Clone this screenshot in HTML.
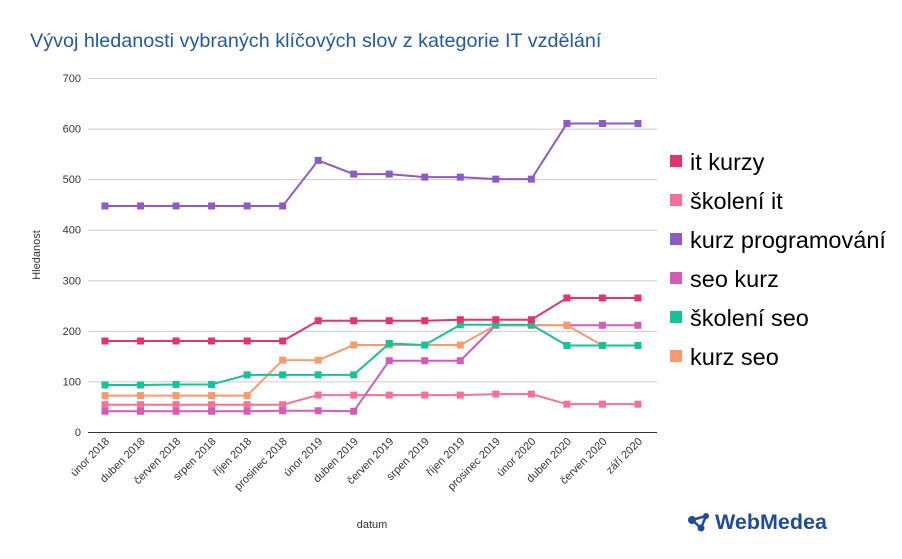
<!DOCTYPE html><html><head><meta charset="utf-8"><style>body{margin:0;background:#fff}svg{display:block;font-family:"Liberation Sans",Roboto,sans-serif}</style></head><body>
<svg width="902" height="559" viewBox="0 0 902 559">
<text x="30" y="47" font-size="19.8" fill="#1f5aa6">Vývoj hledanosti vybraných klíčových slov z kategorie IT vzdělání</text>
<g id="grid" stroke="#ccc" stroke-width="1"></g>
<g id="ylab" font-size="11" fill="#333" text-anchor="end"></g>
<line x1="88" x2="657" y1="432.5" y2="432.5" stroke="#333"/>
<text transform="translate(40,255) rotate(-90)" font-size="11" fill="#333" text-anchor="middle">Hledanost</text>
<text x="372" y="528" font-size="11" fill="#333" text-anchor="middle">datum</text>
<g id="xlab" font-size="11" fill="#333"></g>
<g id="series"></g>
<g font-size="23.5" fill="#000">
<rect x="670" y="155" width="12" height="12" fill="#e5336e"/><text x="690" y="170">it kurzy</text>
<rect x="670" y="194" width="12" height="12" fill="#f7709a"/><text x="690" y="209">školení it</text>
<rect x="670" y="233" width="12" height="12" fill="#8e5ac9"/><text x="690" y="248">kurz programování</text>
<rect x="670" y="272" width="12" height="12" fill="#d45bb7"/><text x="690" y="287">seo kurz</text>
<rect x="670" y="311" width="12" height="12" fill="#15c39a"/><text x="690" y="326">školení seo</text>
<rect x="670" y="350" width="12" height="12" fill="#f89a6c"/><text x="690" y="365">kurz seo</text>
</g>
<g transform="translate(688,512)">
<circle cx="4" cy="8" r="4" fill="#1e4b9c"/><circle cx="18" cy="4" r="3" fill="#1e4b9c"/><circle cx="13" cy="16" r="3.5" fill="#1e4b9c"/>
<path d="M4 8 L18 4 M4 8 L13 16 M18 4 L13 16" stroke="#1e4b9c" stroke-width="2.5"/>
<text x="27" y="17" font-size="21.5" font-weight="bold" fill="#1e4b9c">WebMedea</text>
</g>
</svg>
<script>
const ns="http://www.w3.org/2000/svg";
function el(t,a,p,txt){const e=document.createElementNS(ns,t);for(const k in a)e.setAttribute(k,a[k]);if(txt)e.textContent=txt;document.getElementById(p).appendChild(e);return e;}
const Y=v=>432-v*0.5057, X=i=>105+i*35.53;
for(let v=100;v<=700;v+=100){el('line',{x1:88,x2:657,y1:Y(v)+.5,y2:Y(v)+.5},'grid');}
for(let v=0;v<=700;v+=100)el('text',{x:81,y:Y(v)+4},'ylab',String(v));
const labs=["únor 2018","duben 2018","červen 2018","srpen 2018","říjen 2018","prosinec 2018","únor 2019","duben 2019","červen 2019","srpen 2019","říjen 2019","prosinec 2019","únor 2020","duben 2020","červen 2020","září 2020"];
labs.forEach((l,i)=>el('text',{x:0,y:0,'text-anchor':'end',transform:`translate(${X(i)+5},${442}) rotate(-45)`},'xlab',l));
const S=[
["#f7709a",[54,54,54,54,54,54,73,73,73,73,73,75,75,55,55,55]],
["#d45bb7",[41,41,41,41,41,42,42,41,141,141,141,211,211,211,211,211]],
["#f89a6c",[72,72,72,72,72,142,142,172,172,172,172,211,211,211,171,171]],
["#15c39a",[93,93,94,94,113,113,113,113,175,172,212,212,212,171,171,171]],
["#e5336e",[180,180,180,180,180,180,220,220,220,220,222,222,222,265,265,265]],
["#8e5ac9",[447,447,447,447,447,447,537,510,510,504,504,500,500,610,610,610]]];
S.forEach(([c,d])=>{el('polyline',{points:d.map((v,i)=>X(i)+','+Y(v)).join(' '),fill:'none',stroke:c,'stroke-width':2},'series');
d.forEach((v,i)=>el('rect',{x:X(i)-3.5,y:Y(v)-3.5,width:7,height:7,fill:c},'series'));});
</script>
</body></html>
